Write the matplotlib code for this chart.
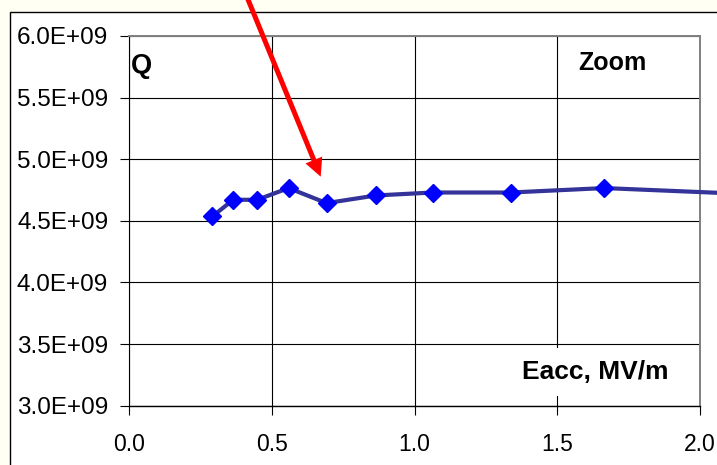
import matplotlib
matplotlib.use('Agg')
import matplotlib.pyplot as plt
from matplotlib.patches import Rectangle, FancyArrow
from matplotlib.transforms import IdentityTransform
from matplotlib.ticker import FuncFormatter, MultipleLocator

plt.rcParams['font.family'] = ['Liberation Sans', 'DejaVu Sans']

# ===== DATA =====
eacc = [0.292, 0.365, 0.449, 0.559, 0.692, 0.865, 1.064, 1.337, 1.665, 2.14]
q_val = [4.536e9, 4.671e9, 4.671e9, 4.766e9, 4.644e9, 4.706e9, 4.730e9,
         4.730e9, 4.766e9, 4.72e9]

W, H = 717, 465
fig = plt.figure(figsize=(W / 100, H / 100), dpi=100)
fig.patch.set_facecolor('#FFFFF4')

# white chart area with black frame (top/left edges visible)
frame = Rectangle((10, -20), 800, H - 12 + 20, transform=IdentityTransform(),
                  facecolor='white', edgecolor='black', linewidth=1.0,
                  zorder=-5)
fig.add_artist(frame)

# plot area in pixels: left 129, right 700, top 36, bottom 405.7
ax = fig.add_axes([129 / W, (H - 405.7) / H, 571 / W, (405.7 - 36) / H])
ax.set_facecolor('white')

ax.plot(eacc, q_val, color='#333399', linewidth=3.0, marker='D',
        markersize=9.5, markerfacecolor='#0000FF', markeredgecolor='#0000FF',
        clip_on=False, zorder=5)

ax.set_xlim(0, 2.0)
ax.set_ylim(3.0e9, 6.0e9)
ax.xaxis.set_major_locator(MultipleLocator(0.5))
ax.yaxis.set_major_locator(MultipleLocator(0.5e9))
ax.xaxis.set_major_formatter(FuncFormatter(lambda v, p: f'{v:.1f}'))
ax.yaxis.set_major_formatter(FuncFormatter(lambda v, p: f'{v:.1E}'))

ax.grid(True, color='black', linewidth=0.8)
ax.set_axisbelow(True)
ax.tick_params(axis='both', direction='out', length=6.5, width=0.8,
               color='black', labelcolor='black')
ax.tick_params(axis='y', pad=8.5, labelsize=17.5)
ax.tick_params(axis='x', pad=13, labelsize=16.5)

for side in ['top', 'right']:
    ax.spines[side].set_color('#808080')
    ax.spines[side].set_linewidth(1.4)
ax.spines['left'].set_color('black')
ax.spines['bottom'].set_color('black')
ax.spines['left'].set_linewidth(0.8)
ax.spines['bottom'].set_linewidth(1.0)

# ===== LABELS inside the plot =====
ax.text(0.004, 0.919, 'Q', transform=ax.transAxes, fontsize=19.5,
        fontweight='bold', ha='left', va='center', zorder=6)
ax.text(0.846, 0.927, 'Zoom', transform=ax.transAxes, fontsize=18,
        fontweight='bold', ha='center', va='center', zorder=6)
ax.text(0.944, 0.091, 'Eacc, MV/m', transform=ax.transAxes, fontsize=19,
        fontweight='bold', ha='right', va='center', zorder=6,
        bbox=dict(facecolor='white', edgecolor='none', pad=9))

# ===== RED ARROW (pixels, image y flipped) =====
x0, y0 = 240.0, -20.0
x1, y1 = 320.7, 176.7
arrow = FancyArrow(x0, H - y0, x1 - x0, -(y1 - y0), width=5,
                   head_width=18, head_length=18, length_includes_head=True,
                   transform=IdentityTransform(), facecolor='#FF0000',
                   edgecolor='none', zorder=10)
fig.add_artist(arrow)

plt.savefig('out.png', dpi=100, facecolor=fig.get_facecolor())
plt.close()
